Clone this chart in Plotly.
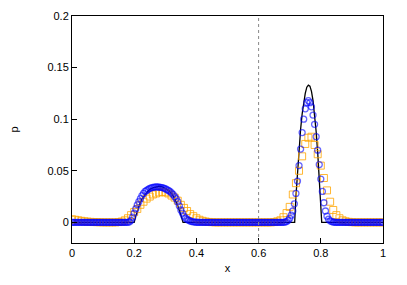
import numpy as np
import plotly.graph_objects as go

# exact solution (black line)
exact_x = [0.0, 0.2, 0.205, 0.21, 0.215, 0.22, 0.23, 0.24, 0.25, 0.26, 0.27, 0.28, 0.29, 0.30,
           0.31, 0.32, 0.33, 0.34, 0.345, 0.35, 0.357,
           0.716, 0.72, 0.725, 0.73, 0.735, 0.74, 0.745, 0.75, 0.755, 0.76, 0.765, 0.77,
           0.775, 0.78, 0.785, 0.79, 0.795, 0.80, 0.803, 1.0]
exact_p = [0.0, 0.0, 0.006, 0.011, 0.016, 0.020, 0.025, 0.029, 0.032, 0.0335, 0.0345, 0.035, 0.0345, 0.033,
           0.031, 0.028, 0.023, 0.016, 0.012, 0.007, 0.0,
           0.0, 0.025, 0.050, 0.072, 0.090, 0.105, 0.117, 0.125, 0.131, 0.133, 0.132, 0.127,
           0.118, 0.105, 0.088, 0.068, 0.045, 0.018, 0.0, 0.0]

# scheme A (blue circles), 201 points, dx = 0.005
blue_x = np.linspace(0, 1, 201)
blue_p = [
    0, 0, 0, 0, 0, 0, 0, 0, 0, 0,
    0, 0, 0, 0, 0, 0, 0, 0, 0, 0,
    0, 0, 0, 0, 0, 0, 0, 0, 0, 0,
    0, 0, 0, 0, 0, 0, 0, 0.0005, 0.002, 0.005,
    0.009, 0.013, 0.017, 0.020, 0.023, 0.026, 0.028, 0.030, 0.031, 0.032,
    0.033, 0.0335, 0.034, 0.0342, 0.0343, 0.0343, 0.0342, 0.034, 0.0337, 0.0332,
    0.0326, 0.0318, 0.031, 0.030, 0.0285, 0.027, 0.025, 0.023, 0.020, 0.016,
    0.012, 0.009, 0.006, 0.004, 0.003, 0.002, 0.0013, 0.0008, 0.0005, 0.0003,
    0.0001, 0, 0, 0, 0, 0, 0, 0, 0, 0,
    0, 0, 0, 0, 0, 0, 0, 0, 0, 0,
    0, 0, 0, 0, 0, 0, 0, 0, 0, 0,
    0, 0, 0, 0, 0, 0, 0, 0, 0, 0,
    0, 0, 0, 0, 0, 0, 0, 0, 0, 0,
    0, 0, 0, 0, 0, 0, 0, 0.0003, 0.0008, 0.002,
    0.004, 0.007, 0.011, 0.018, 0.028, 0.040, 0.055, 0.071, 0.087, 0.100,
    0.110, 0.116, 0.118, 0.116, 0.112, 0.104, 0.095, 0.083, 0.070, 0.056,
    0.042, 0.030, 0.019, 0.011, 0.006, 0.003, 0.0015, 0.0008, 0.0003, 0.0001,
    0, 0, 0, 0, 0, 0, 0, 0, 0, 0,
    0, 0, 0, 0, 0, 0, 0, 0, 0, 0,
    0, 0, 0, 0, 0, 0, 0, 0, 0, 0,
    0,
]

# scheme B (orange squares), 101 points, dx = 0.01
orange_x = np.linspace(0, 1, 101)
orange_p = [
    0.003, 0.0025, 0.002, 0.0015, 0.001, 0.0007, 0.0005, 0.0003, 0.0002, 0.0001,
    0, 0, 0, 0, 0, 0.0003, 0.0008, 0.002, 0.004, 0.007,
    0.010, 0.013, 0.017, 0.020, 0.023, 0.025, 0.027, 0.028, 0.029, 0.0295,
    0.029, 0.028, 0.026, 0.024, 0.021, 0.017, 0.014, 0.011, 0.008, 0.006,
    0.004, 0.0025, 0.0015, 0.0008, 0.0004, 0.0002, 0, 0, 0, 0,
    0, 0, 0, 0, 0, 0, 0, 0, 0, 0,
    0, 0, 0, 0, 0, 0.0003, 0.001, 0.002, 0.005, 0.009,
    0.015, 0.027, 0.038, 0.050, 0.064, 0.076, 0.082, 0.083, 0.075, 0.066,
    0.055, 0.043, 0.031, 0.020, 0.012, 0.007, 0.004, 0.002, 0.001, 0.0005,
    0.0002, 0, 0, 0, 0, 0, 0, 0, 0, 0,
    0,
]

x_ticks = [0, 0.2, 0.4, 0.6, 0.8, 1]
x_tick_labels = ["0", "0.2", "0.4", "0.6", "0.8", "1"]
y_ticks = [0, 0.05, 0.1, 0.15, 0.2]
y_tick_labels = ["0", "0.05", "0.1", "0.15", "0.2"]
divider_x = 0.6

fig = go.Figure()
fig.add_trace(go.Scatter(
    x=exact_x, y=exact_p, mode="lines",
    line=dict(color="black", width=1.3), showlegend=False))
fig.add_trace(go.Scatter(
    x=orange_x, y=orange_p, mode="markers",
    marker=dict(symbol="square-open", size=7, color="rgba(255,165,0,0.8)",
                line=dict(width=1, color="rgba(255,165,0,0.8)")),
    showlegend=False))
fig.add_trace(go.Scatter(
    x=blue_x, y=blue_p, mode="markers",
    marker=dict(symbol="circle-open", size=6, color="rgba(0,0,255,0.6)",
                line=dict(width=1.3, color="rgba(0,0,255,0.6)")),
    showlegend=False))

fig.add_shape(type="line", x0=divider_x, x1=divider_x, y0=0, y1=1,
              xref="x", yref="paper",
              line=dict(color="#888888", width=1, dash="dot"))

axis_font = dict(family="Liberation Sans, Arial, sans-serif", size=11, color="black")
fig.update_layout(
    width=407, height=285,
    margin=dict(l=64, r=32, t=8, b=50, autoexpand=False),
    paper_bgcolor="white", plot_bgcolor="white",
    font=axis_font,
    xaxis=dict(range=[0, 1], tickvals=x_ticks, ticktext=x_tick_labels,
               ticks="inside", ticklen=5, tickcolor="black",
               showline=True, linecolor="black", linewidth=1, mirror=True,
               showgrid=False, zeroline=False,
               title=dict(text="x", standoff=6, font=axis_font)),
    yaxis=dict(range=[-0.02, 0.2], tickvals=y_ticks, ticktext=y_tick_labels,
               ticks="inside", ticklen=5, tickcolor="black",
               showline=True, linecolor="black", linewidth=1, mirror=True,
               showgrid=False, zeroline=False,
               title=dict(text="p", standoff=36, font=axis_font)),
)

fig.write_html("out.html")
